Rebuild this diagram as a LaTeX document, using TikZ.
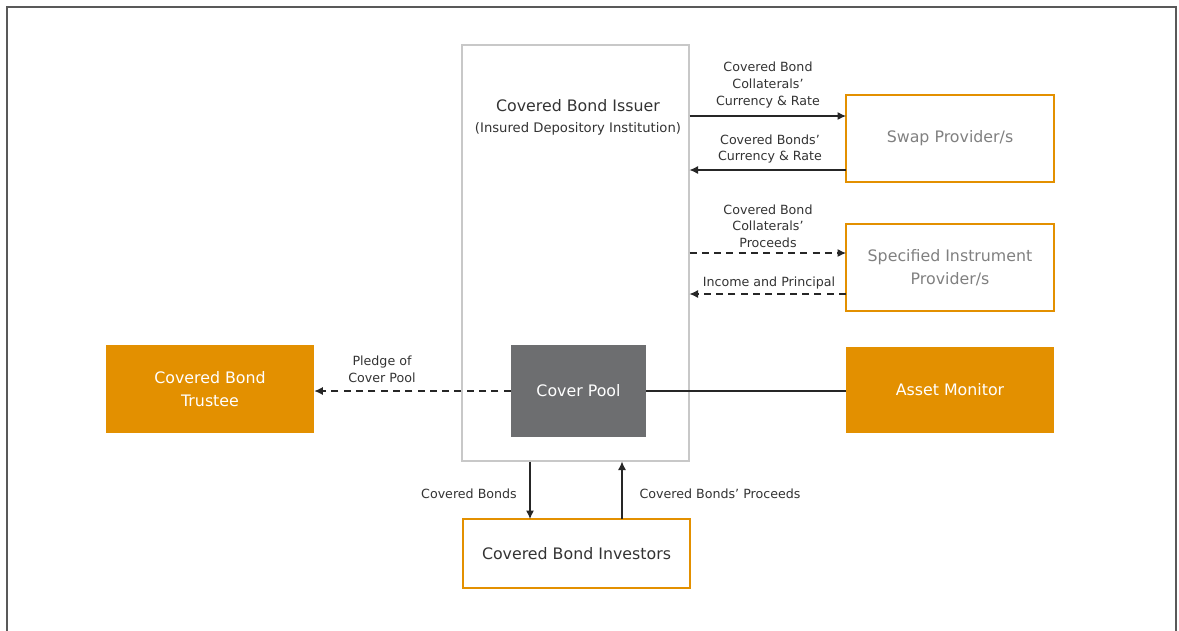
\documentclass[tikz,border=0pt]{standalone}
\usepackage{fontspec}
\setmainfont{DejaVu Sans}
\usepackage{tikz}
\usetikzlibrary{positioning,arrows.meta}

\definecolor{bondorange}{HTML}{E39000}
\definecolor{poolgray}{HTML}{6D6E70}
\definecolor{softgray}{HTML}{C8C8C8}
\definecolor{textgray}{HTML}{808080}
\definecolor{darktext}{HTML}{333333}

\begin{document}
\begin{tikzpicture}[
        x=0.02cm, y=-0.02cm,
        >={Latex[length=1.7mm, width=1.6mm]},
        box/.style={rectangle, align=center, inner sep=2pt, font=\fontsize{9}{12.8}\selectfont},
        outline/.style={box, draw=bondorange, line width=0.6pt, text=textgray},
        solidbox/.style={box, fill=bondorange, text=white},
        lbl/.style={align=center, inner sep=1pt, text=darktext, font=\fontsize{7.2}{9.4}\selectfont},
        arrow/.style={->, line width=0.6pt, draw=black!85},
        dasharrow/.style={arrow, dashed, dash pattern=on 4pt off 3pt}
    ]
    \useasboundingbox (0,0) rectangle (1179,630);
    \draw[gray!70!black, line width=0.8pt] (7,632) -- (7,7) -- (1176,7) -- (1176,632);

    % issuer and cover pool
    \node[box, draw=softgray, line width=0.6pt, minimum width=227*0.02cm, minimum height=416*0.02cm] (issuer) at (575.5,253) {};
    \node[box, text=darktext, anchor=north] (issuertxt) at (578,96) {Covered Bond Issuer\\[-1pt]{\fontsize{7.5}{9.5}\selectfont(Insured Depository Institution)}};
    \node[box, fill=poolgray, text=white, minimum width=135*0.02cm, minimum height=92*0.02cm] (pool) at (578.5,391) {Cover Pool};

    % parties round the issuer
    \node[outline, minimum width=208*0.02cm, minimum height=87*0.02cm] (swap) at (950,138.5) {Swap Provider/s};
    \node[outline, minimum width=208*0.02cm, minimum height=87*0.02cm] (spec) at (950,267.5) {Specified Instrument\\Provider/s};
    \node[solidbox, minimum width=208*0.02cm, minimum height=86*0.02cm] (monitor) at (950,390) {Asset Monitor};
    \node[solidbox, minimum width=208*0.02cm, minimum height=88*0.02cm] (trustee) at (210,389) {Covered Bond\\Trustee};
    \node[outline, text=darktext, minimum width=227*0.02cm, minimum height=69*0.02cm] (investors) at (576.5,553.5) {Covered Bond Investors};

    \coordinate (swapin) at (846,116);
    \coordinate (swapout) at (846,170);
    \coordinate (specin) at (846,253);
    \coordinate (specout) at (846,294);
    \coordinate (bondsdown) at (530,519);
    \coordinate (bondsup) at (622,519);

    \draw[arrow] (issuer.east |- swapin) -- (swapin);
    \draw[arrow] (swapout) -- (issuer.east |- swapout);
    \draw[dasharrow] (issuer.east |- specin) -- (specin);
    \draw[dasharrow] (specout) -- (issuer.east |- specout);
    \draw[dasharrow] (pool.west) -- (trustee.east |- pool.west);
    \draw[line width=0.6pt, black!85] (pool.east) -- (monitor.west |- pool.east);
    \draw[arrow] (issuer.south -| bondsdown) -- (bondsdown);
    \draw[arrow] (bondsup) -- (issuer.south -| bondsup);

    % connector labels
    \node[lbl] (l1) at (768,85) {Covered Bond\\Collaterals’\\Currency \& Rate};
    \node[lbl] (l2) at (770,149) {Covered Bonds’\\Currency \& Rate};
    \node[lbl] (l3) at (768,226) {Covered Bond\\Collaterals’\\Proceeds};
    \node[lbl] (l4) at (769,283) {Income and Principal};
    \node[lbl] (l5) at (382,369.5) {Pledge of\\Cover Pool};
    \node[lbl] (l6) at (469,494) {Covered Bonds};
    \node[lbl] (l7) at (720,494) {Covered Bonds’ Proceeds};
    \end{tikzpicture}
\end{document}
